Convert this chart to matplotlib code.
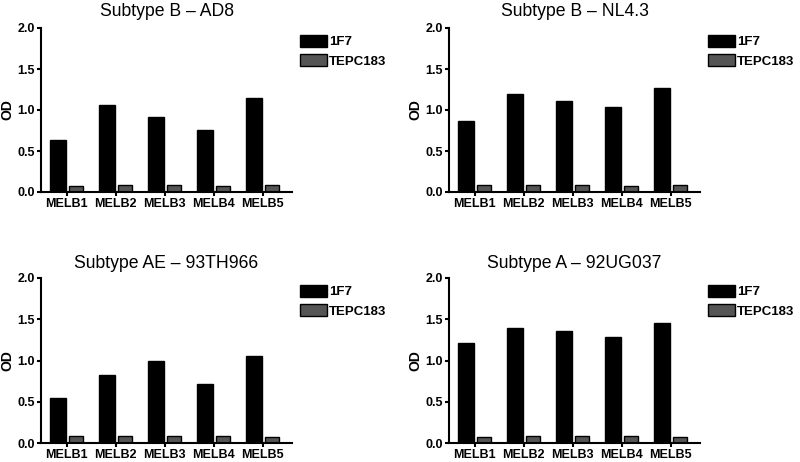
import numpy as np
import matplotlib
matplotlib.use('Agg')
import matplotlib.pyplot as plt

plt.rcParams['font.family'] = ['Liberation Sans', 'DejaVu Sans']

# Data
categories = ['MELB1', 'MELB2', 'MELB3', 'MELB4', 'MELB5']
titles = ['Subtype B \u2013 AD8', 'Subtype B \u2013 NL4.3',
          'Subtype AE \u2013 93TH966', 'Subtype A \u2013 92UG037']
ad8_1f7 = [0.63, 1.06, 0.92, 0.76, 1.15]
ad8_tepc = [0.07, 0.08, 0.08, 0.07, 0.08]
nl43_1f7 = [0.86, 1.20, 1.11, 1.04, 1.27]
nl43_tepc = [0.08, 0.09, 0.08, 0.07, 0.09]
th966_1f7 = [0.55, 0.83, 1.00, 0.71, 1.06]
th966_tepc = [0.08, 0.08, 0.08, 0.08, 0.07]
ug037_1f7 = [1.21, 1.40, 1.36, 1.29, 1.46]
ug037_tepc = [0.07, 0.08, 0.08, 0.08, 0.07]

panels = [(ad8_1f7, ad8_tepc), (nl43_1f7, nl43_tepc),
          (th966_1f7, th966_tepc), (ug037_1f7, ug037_tepc)]

W, H = 800, 462
fig = plt.figure(figsize=(W / 100, H / 100), dpi=100)

# axes boxes in pixels: left, top, right, bottom
boxes = [(41, 28, 292, 192), (449, 28, 700, 192),
         (41, 278, 292, 443), (449, 278, 700, 443)]
title_y = [11, 11, 264, 264]

x = np.arange(len(categories))
bw = 0.32
for i, ((a, b), box) in enumerate(zip(panels, boxes)):
    l, t, r, btm = box
    ax = fig.add_axes([l / W, 1 - btm / H, (r - l) / W, (btm - t) / H])
    ax.bar(x - 0.18, a, bw, color='black', edgecolor='black', lw=1, label='1F7')
    ax.bar(x + 0.19, b, bw * 0.9, color='#555555', edgecolor='black', lw=1, label='TEPC183')
    ax.set_xlim(-0.53, 4.6)
    ax.set_ylim(0, 2.0)
    ax.set_yticks([0, 0.5, 1.0, 1.5, 2.0])
    ax.set_yticklabels(['0.0', '0.5', '1.0', '1.5', '2.0'])
    ax.set_xticks(x)
    ax.set_xticklabels(categories)
    for s in ['top', 'right']:
        ax.spines[s].set_visible(False)
    for s in ['left', 'bottom']:
        ax.spines[s].set_linewidth(1.5)
    ax.tick_params(axis='both', width=1.5, length=3, labelsize=9, pad=1.5)
    for lab in ax.get_xticklabels() + ax.get_yticklabels():
        lab.set_fontweight('bold')
    ax.set_ylabel('OD', fontsize=10, fontweight='bold', labelpad=2)
    fig.text((l + r) / 2 / W, 1 - title_y[i] / H, titles[i], ha='center', va='center', fontsize=12.7)
    ax.legend(loc='upper left', bbox_to_anchor=(1.01, 0.99), frameon=False,
              handlelength=2.1, handleheight=1.0, handletextpad=0.1, labelspacing=0.45,
              borderaxespad=0, prop={'weight': 'bold', 'size': 9.5})

fig.savefig('out.png', dpi=100)
